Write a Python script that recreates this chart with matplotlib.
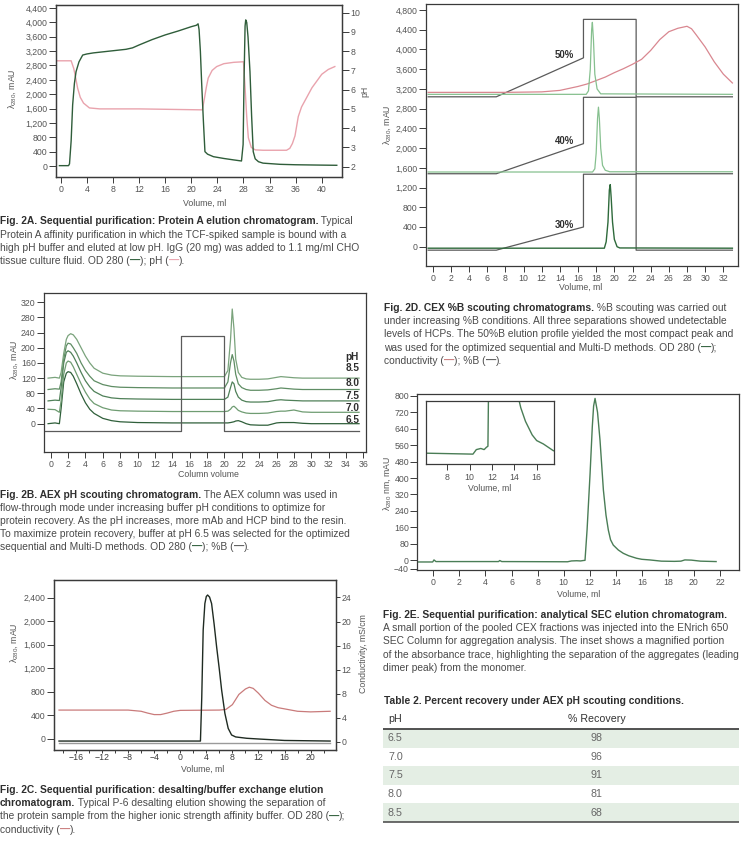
import numpy as np
import matplotlib.pyplot as plt
from matplotlib.ticker import FuncFormatter, MultipleLocator
from matplotlib.patches import Rectangle

# ---------------- data ----------------
# Fig 2A: Protein A elution
pa_x = [-0.2, 1.2, 1.35, 1.6, 1.83, 2.1, 2.35, 2.8, 3.37, 4.0, 5.0, 6.0, 8.0, 10.0, 11.0, 12.0, 14.0, 16.0, 18.0, 20.0,
        20.8, 21.05, 21.2, 21.4, 21.6, 21.85, 22.1, 22.5, 23.4, 25.0, 26.5, 27.7, 27.95, 28.1, 28.25, 28.35, 28.5, 28.7,
        29.0, 29.25, 29.5, 29.8, 30.3, 31.0, 33.6, 36.0, 38.0, 40.0, 42.3]
pa_od = [10, 10, 60, 700, 1700, 2300, 2626, 2900, 3090, 3120, 3150, 3170, 3210, 3250, 3290, 3370, 3520, 3650, 3760, 3880,
         3920, 3960, 3800, 3200, 2300, 1300, 400, 330, 260, 210, 170, 140, 600, 2500, 3900, 4070, 4000, 3600,
         2626, 1400, 400, 200, 120, 80, 47, 35, 30, 25, 20]
ph_x = [-0.5, 1.6, 2.0, 2.3, 2.6, 3.0, 3.5, 4.4, 6.0, 12, 21.7, 22.0, 22.3, 22.6, 23.2, 23.9, 25.0, 26.5, 28.0, 28.25,
        28.5, 28.75, 29.2, 29.8, 31.0, 34.6, 35.1, 35.5, 35.9, 36.4, 36.9, 37.7, 38.5, 40.0, 41.0, 42.0]
ph_v = [7.5, 7.5, 7.1, 6.6, 6.07, 5.6, 5.3, 5.05, 5.0, 5.0, 4.95, 5.5, 6.1, 6.6, 7.0, 7.2, 7.35, 7.42, 7.45, 6.1,
        4.6, 3.5, 3.0, 2.87, 2.85, 2.85, 2.95, 3.2, 3.6, 4.6, 5.1, 5.6, 6.1, 6.8, 7.05, 7.2]

# Fig 2B: AEX pH scouting
aex_x = [-0.3, 0.5, 1.0, 1.2, 1.5, 1.8, 2.0, 2.3, 2.6, 3.0, 3.5, 4.0, 4.5, 5.0, 6.0, 7.0, 8.0, 10, 14, 19,
         20.0, 20.4, 20.7, 20.9, 21.1, 21.3, 21.6, 22.0, 22.5, 23, 24, 25, 26, 26.5, 27, 28, 29, 30, 35.5]
aex_ph = ['6.5', '7.0', '7.5', '8.0', '8.5']
aex_traces = [
    [0, 2, 0, 40, 110, 133, 137, 135, 125, 105, 78, 55, 38, 27, 14, 8, 5, 3, 2, 2,
     2, 2, 3, 4, 5, 7, 8, 5, 0, -3, -4, -4, 2, 3, 3, 3, 1, 0, 0],
    [38, 37, 30, 60, 130, 160, 165, 162, 150, 130, 105, 83, 65, 53, 42, 36, 34, 33, 32, 32,
     32, 33, 38, 44, 46, 42, 35, 31, 28, 27, 27, 28, 32, 33, 33, 36, 31, 30, 30],
    [60, 62, 61, 95, 160, 188, 192, 188, 178, 160, 135, 113, 97, 85, 73, 68, 66, 65, 64, 64,
     64, 70, 95, 110, 105, 85, 70, 62, 58, 57, 57, 58, 62, 63, 62, 61, 60, 60, 60],
    [90, 92, 91, 110, 170, 205, 212, 210, 200, 185, 160, 140, 125, 113, 103, 98, 96, 95, 94, 94,
     94, 110, 160, 182, 165, 130, 105, 95, 90, 88, 88, 89, 92, 94, 93, 91, 90, 90, 90],
    [120, 122, 120, 135, 185, 222, 232, 237, 234, 222, 200, 178, 160, 146, 133, 128, 126, 125, 124, 124,
     124, 140, 220, 302, 250, 170, 135, 122, 118, 117, 117, 118, 122, 124, 123, 121, 120, 120, 120],
]
aex_b_x = [-0.7, 15, 15, 20, 20, 35.5]
aex_b_y = [-19, -19, 231, 231, -19, -19]

# Fig 2C: desalting
cd_x = [-18.6, 3.1, 3.3, 3.52, 3.78, 4.0, 4.2, 4.5, 4.81, 5.2, 5.58, 6.0, 6.35, 6.85, 7.36, 7.88, 8.5, 10.2, 12.0, 16.0, 23.0]
cd_od = [-35, -35, 700, 1850, 2300, 2420, 2445, 2410, 2300, 1950, 1567, 1180, 832, 436, 180, 68, 35, 12, 0, -25, -35]
cd_ref_x = [-18.6, 23.0]
cd_ref_y = [-65, -65]
cond_x = [-18.6, -8, -6, -5, -4, -3, -2, -1, 0, 6, 7, 8, 9, 10, 10.6, 11.2, 12, 13, 14, 15, 16, 18, 20, 23]
cond_v = [5.3, 5.3, 5.1, 4.8, 4.55, 4.55, 4.8, 5.1, 5.25, 5.3, 5.4, 6.2, 7.9, 8.8, 9.1, 8.9, 8.1, 6.9, 6.1, 5.7, 5.5, 5.1, 5.0, 5.1]

# Fig 2D: CEX %B scouting
cex30_x = [-0.5, 18.9, 19.1, 19.3, 19.45, 19.55, 19.65, 19.8, 20.0, 20.3, 20.6, 33]
cex30_y = [-30, -30, 100, 500, 1150, 1260, 1000, 500, 150, 0, -25, -30]
cex40_x = [-0.5, 17.6, 17.85, 18.0, 18.15, 18.25, 18.35, 18.5, 18.7, 19.0, 19.5, 33]
cex40_y = [1515, 1515, 1580, 1900, 2600, 2830, 2600, 2000, 1650, 1550, 1520, 1520]
cex50_x = [-0.5, 16.9, 17.15, 17.35, 17.5, 17.58, 17.7, 17.85, 18.1, 18.5, 33]
cex50_y = [3090, 3090, 3160, 3600, 4400, 4550, 4200, 3500, 3200, 3100, 3090]
cond50_x = [-0.5, 8, 12, 14, 16, 17, 18, 19, 20, 21, 22, 23, 24, 25, 26, 27, 28, 28.5, 29, 30, 31, 32, 33]
cond50_y = [3130, 3130, 3140, 3170, 3250, 3300, 3370, 3440, 3530, 3610, 3700, 3800, 3980, 4200, 4360, 4430, 4470,
            4420, 4300, 4050, 3750, 3500, 3320]
pctb_x = [-0.5, 7.0, 16.6, 16.6, 22.4, 22.4, 33.0]
pctb_30 = [-70, -70, 400, 1470, 1470, -70, -70]
pctb_40 = [1480, 1480, 2090, 3030, 3030, 1480, 1480]
pctb_50 = [3040, 3040, 3830, 4610, 4610, 3040, 3040]

# Fig 2E: analytical SEC
sec_x = [-1.2, -0.05, 0.05, 0.2, 5.0, 5.1, 5.25, 10.3, 10.6, 11.0, 11.3, 11.5, 11.64, 11.8, 12.03, 12.2, 12.3, 12.41,
         12.6, 12.79, 13.05, 13.25, 13.43, 13.6, 13.81, 14.2, 14.58, 15.0, 15.6, 16.0, 16.6, 17.5, 18.5, 19.0, 19.3,
         19.8, 20.5, 21.7]
sec_y = [-8, -8, 2, -6, -6, -1, -6, -7, -3, -2, -3, -1, 0, 150, 423, 650, 750, 787,
         720, 585, 342, 220, 147, 100, 74, 50, 34, 22, 10, 5, 2, -4, -5, -4, 2,
         1, -4, -6]

# Table 2
tbl_ph = ['6.5', '7.0', '7.5', '8.0', '8.5']
tbl_recovery = [98, 96, 91, 81, 68]

# ---------------- styling ----------------
plt.rcParams['font.family'] = ['Liberation Sans', 'DejaVu Sans']
plt.rcParams['mathtext.fontset'] = 'custom'
plt.rcParams['mathtext.rm'] = 'Liberation Sans'
plt.rcParams['mathtext.it'] = 'Liberation Sans:italic'
plt.rcParams['mathtext.bf'] = 'Liberation Sans:bold'
plt.rcParams['mathtext.default'] = 'regular'

W, H = 743, 842
SPINE = '#3a3a3a'
TICK = '#555555'
TXT = '#4a4a4a'
BOLD = '#2e2e2e'
GREEN = '#2f5d3a'
LGREEN = '#86c08f'
PINK = '#e9a3ad'
RED = '#c97b7b'
GREY = '#5a5a5a'
LBL = 6.3

fig = plt.figure(figsize=(W / 100, H / 100), dpi=100)
renderer = fig.canvas.get_renderer()
comma = FuncFormatter(lambda v, p: f'{v:,.0f}')


def style(ax):
    for s in ax.spines.values():
        s.set_color(SPINE)
        s.set_linewidth(0.9)
    ax.tick_params(direction='out', width=0.7, colors=SPINE, labelcolor=TICK, labelsize=LBL)
    ax.tick_params(axis='y', length=5, pad=1)
    ax.tick_params(axis='x', length=4, pad=2)


def box(l, t, r, b):
    ax = fig.add_axes([l / W, 1 - b / H, (r - l) / W, (b - t) / H])
    style(ax)
    return ax


def labels(ax, xl, xpos, yl, ypos):
    ax.set_xlabel(xl, fontsize=LBL, color=TICK)
    ax.xaxis.set_label_coords(*xpos)
    if yl:
        ax.set_ylabel(yl, fontsize=LBL, color=TICK)
        ax.yaxis.set_label_coords(*ypos)


def caption(x0, y0, lines, size=7.4, step=13.2):
    for i, runs in enumerate(lines):
        if isinstance(runs, str):
            runs = [(runs, False, TXT)]
        x = x0
        y = y0 + i * step
        for s, bold, col in runs:
            t = fig.text(x / W, 1 - y / H, s, fontsize=size, color=col,
                         fontweight='bold' if bold else 'normal', va='baseline', ha='left')
            x += t.get_window_extent(renderer).width


def n(s):
    return (s, False, TXT)


def b(s):
    return (s, True, BOLD)


def dash(col):
    return ('\u2014', True, col)


LAM = 'λ$_{280}$, mAU'

# ---------------- Fig 2A ----------------
ax = box(56, 5, 342, 177)
ax.plot(pa_x, pa_od, color=GREEN, lw=1.0, zorder=3)
ax.set_xlim(-0.72, 43.1)
ax.set_ylim(-306, 4484)
ax.xaxis.set_major_locator(MultipleLocator(4))
ax.yaxis.set_major_locator(MultipleLocator(400))
ax.yaxis.set_major_formatter(comma)
labels(ax, 'Volume, ml', (0.52, -0.126), LAM, (-0.134, 0.516))
ax2 = ax.twinx()
style(ax2)
ax2.plot(ph_x, ph_v, color=PINK, lw=1.0)
ax2.set_ylim(1.46, 10.4)
ax2.yaxis.set_major_locator(MultipleLocator(1))
ax2.set_ylabel('pH', fontsize=LBL, color=TICK)
ax2.yaxis.set_label_coords(1.065, 0.5)
ax.set_zorder(ax2.get_zorder() + 1)
ax.patch.set_visible(False)

caption(0, 224.5, [
    [b('Fig. 2A. Sequential purification: Protein A elution chromatogram.'), n(' Typical')],
    'Protein A affinity purification in which the TCF-spiked sample is bound with a',
    'high pH buffer and eluted at low pH. IgG (20 mg) was added to 1.1 mg/ml CHO',
    [n('tissue culture fluid. OD 280 ('), dash(GREEN), n('); pH ('), dash(PINK), n(').')],
])

# ---------------- Fig 2B ----------------
ax = box(44, 292.7, 366, 451.7)
aex_cols = ['#2f5f3a', '#6f9c72', '#4f8058', '#5f8d64', '#7aa37c']
for ys, c in zip(aex_traces, aex_cols):
    ax.plot(aex_x, ys, color=c, lw=0.9)
ax.plot(aex_b_x, aex_b_y, color=GREY, lw=0.9)
ax.set_xlim(-0.77, 36.3)
ax.set_ylim(-73.8, 345)
ax.xaxis.set_major_locator(MultipleLocator(2))
ax.set_yticks(np.arange(0, 321, 40))
labels(ax, 'Column volume', (0.51, -0.115), LAM, (-0.076, 0.58))
lab_y = [10, 41, 74, 107, 147]
for lbl, yy in zip(aex_ph, lab_y):
    ax.text(33.9, yy, lbl, fontsize=7.2, fontweight='bold', color=BOLD, va='center')
ax.text(33.9, 175, 'pH', fontsize=7.2, fontweight='bold', color=BOLD, va='center')

caption(0, 497.5, [
    [b('Fig. 2B. AEX pH scouting chromatogram.'), n(' The AEX column was used in')],
    'flow-through mode under increasing buffer pH conditions to optimize for',
    'protein recovery. As the pH increases, more mAb and HCP bind to the resin.',
    'To maximize protein recovery, buffer at pH 6.5 was selected for the optimized',
    [n('sequential and Multi-D methods. OD 280 ('), dash(GREEN), n('); %B ('), dash(GREY), n(').')],
])

# ---------------- Fig 2C ----------------
ax = box(54, 580, 336, 750)
ax.plot(cd_ref_x, cd_ref_y, color='#9a9a9a', lw=1.0)
ax.plot(cd_x, cd_od, color='#1f2b22', lw=1.0, zorder=3)
ax.set_xlim(-19.37, 23.9)
ax.set_ylim(-187, 2700)
ax.xaxis.set_major_locator(MultipleLocator(4))
ax.xaxis.set_minor_locator(MultipleLocator(2))
ax.tick_params(axis='x', which='both', direction='out', length=2.5, width=0.7, colors=SPINE, pad=0)
ax.yaxis.set_major_locator(MultipleLocator(400))
ax.yaxis.set_major_formatter(comma)
labels(ax, 'Volume, ml', (0.528, -0.088), LAM, (-0.122, 0.63))
ax2 = ax.twinx()
style(ax2)
ax2.tick_params(axis='y', length=3, pad=1)
ax2.plot(cond_x, cond_v, color=RED, lw=0.9)
ax2.set_ylim(-1.33, 26.9)
ax2.yaxis.set_major_locator(MultipleLocator(4))
ax2.set_ylabel('Conductivity, mS/cm', fontsize=LBL, color=TICK)
ax2.yaxis.set_label_coords(1.082, 0.57)
ax.set_zorder(ax2.get_zorder() + 1)
ax.patch.set_visible(False)

caption(0, 793, [
    [b('Fig. 2C. Sequential purification: desalting/buffer exchange elution')],
    [b('chromatogram.'), n(' Typical P-6 desalting elution showing the separation of')],
    [n('the protein sample from the higher ionic strength affinity buffer. OD 280 ('), dash(GREEN), n(');')],
    [n('conductivity ('), dash(RED), n(').')],
])

# ---------------- Fig 2D ----------------
ax = box(426, 4, 738.3, 265.7)
for ys in (pctb_30, pctb_40, pctb_50):
    ax.plot(pctb_x, ys, color=GREY, lw=0.9)
ax.plot(cond50_x, cond50_y, color='#d98790', lw=0.9)
ax.plot(cex50_x, cex50_y, color=LGREEN, lw=0.9)
ax.plot(cex40_x, cex40_y, color=LGREEN, lw=0.9)
ax.plot(cex30_x, cex30_y, color='#2e6a3b', lw=1.0)
ax.set_xlim(-0.74, 33.65)
ax.set_ylim(-385, 4922)
ax.xaxis.set_major_locator(MultipleLocator(2))
ax.yaxis.set_major_locator(MultipleLocator(400))
ax.yaxis.set_major_formatter(comma)
labels(ax, 'Volume, ml', (0.495, -0.067), LAM, (-0.106, 0.54))
for lbl, ramp in (('50%', pctb_50), ('40%', pctb_40), ('30%', pctb_30)):
    ax.text(15.6, ramp[2] + 50, lbl, fontsize=6.9, fontweight='bold', color=BOLD, ha='right', va='center')

caption(384, 311, [
    [b('Fig. 2D. CEX %B scouting chromatograms.'), n(' %B scouting was carried out')],
    'under increasing %B conditions. All three separations showed undetectable',
    'levels of HCPs. The 50%B elution profile yielded the most compact peak and',
    [n('was used for the optimized sequential and Multi-D methods. OD 280 ('), dash(GREEN), n(');')],
    [n('conductivity ('), dash(RED), n('); %B ('), dash(GREY), n(').')],
])

# ---------------- Fig 2E ----------------
ax = box(417.3, 394.3, 739.3, 570)
ax.plot(sec_x, sec_y, color='#4a7d56', lw=1.0)
ax.set_xlim(-1.23, 23.48)
ax.set_ylim(-47, 807)
ax.xaxis.set_major_locator(MultipleLocator(2))
ax.set_yticks(np.r_[-40, np.arange(0, 801, 80)])
labels(ax, 'Volume, ml', (0.5, -0.11), 'λ$_{280}$ nm, mAU', (-0.076, 0.49))

ins = box(425.7, 401, 554.3, 464.3)
ins.plot(sec_x, sec_y, color='#4a7d56', lw=1.0)
ins.set_xlim(6.07, 17.58)
ins.set_ylim(-16, 40)
ins.set_yticks([])
ins.xaxis.set_major_locator(MultipleLocator(2))
labels(ins, 'Volume, ml', (0.5, -0.306), None, None)

caption(383.3, 618, [
    [b('Fig. 2E. Sequential purification: analytical SEC elution chromatogram.')],
    'A small portion of the pooled CEX fractions was injected into the ENrich 650',
    'SEC Column for aggregation analysis. The inset shows a magnified portion',
    'of the absorbance trace, highlighting the separation of the aggregates (leading',
    'dimer peak) from the monomer.',
])

# ---------------- Table 2 ----------------
caption(384, 703.5, [[b('Table 2. Percent recovery under AEX pH scouting conditions.')]])
tx = fig.add_axes([382.7 / W, 1 - 826 / H, (739.3 - 382.7) / W, (826 - 708) / H])
tx.set_xlim(382.7, 739.3)
tx.set_ylim(826, 708)
tx.axis('off')
row_h = 18.6
first = 738.3
tx.text(388, 719.5, 'pH', fontsize=7.7, color='#333333', va='center')
tx.text(596.7, 719.5, '% Recovery', fontsize=7.7, color='#333333', va='center', ha='center')
for i, (p, r) in enumerate(zip(tbl_ph, tbl_recovery)):
    yc = first + i * row_h
    if i % 2 == 0:
        tx.add_patch(Rectangle((382.7, yc - row_h / 2), 739.3 - 382.7, row_h, color='#e4eee4', lw=0, zorder=0))
    tx.text(388, yc, p, fontsize=7.7, color='#666666', va='center')
    tx.text(596.7, yc, str(r), fontsize=7.7, color='#666666', va='center', ha='center')
tx.plot([382.7, 739.3], [729, 729], color='#444444', lw=1.3)
tx.plot([382.7, 739.3], [first + 4.5 * row_h, first + 4.5 * row_h], color='#444444', lw=1.1)

fig.savefig('out.png', dpi=100)
